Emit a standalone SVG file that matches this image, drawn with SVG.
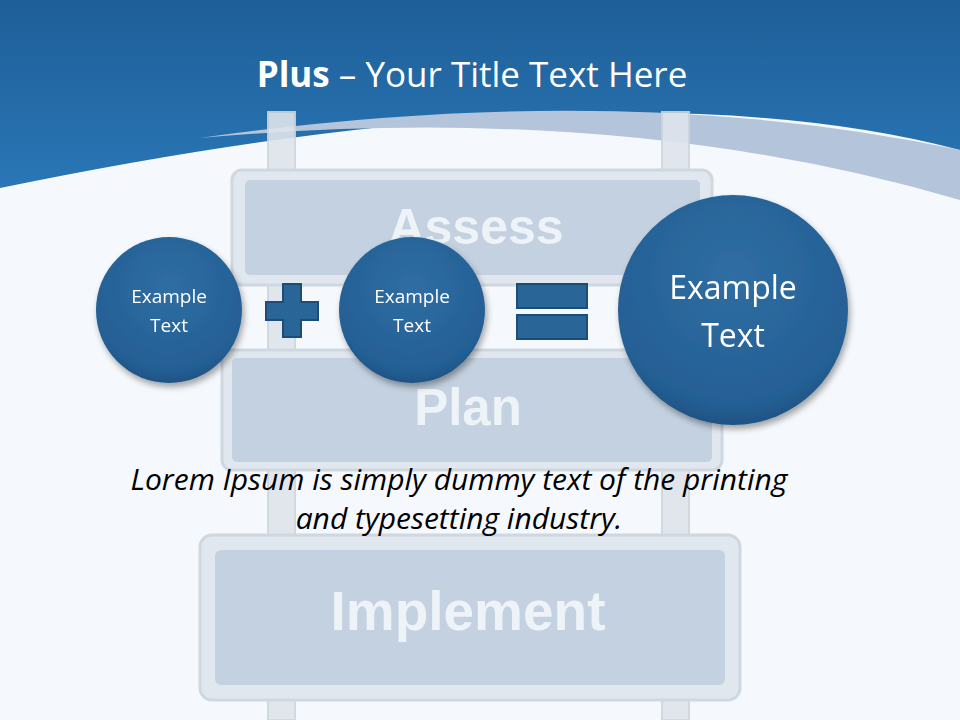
<svg xmlns="http://www.w3.org/2000/svg" width="960" height="720" viewBox="0 0 960 720">
<defs>
<linearGradient id="hdr" x1="0" y1="0" x2="0" y2="1"><stop offset="0" stop-color="#1e5f98"/><stop offset="1" stop-color="#2a76b6"/></linearGradient>
<radialGradient id="ball" cx="0.5" cy="0.35" r="0.7"><stop offset="0" stop-color="#2f6ea3"/><stop offset="0.8" stop-color="#245f94"/><stop offset="1" stop-color="#1b4d7c"/></radialGradient>
<filter id="sh" x="-20%" y="-20%" width="140%" height="140%"><feDropShadow dx="2" dy="4" stdDeviation="3" flood-color="#000" flood-opacity="0.35"/></filter>
</defs>
<style>
.ct{font-family:"Open Sans","Noto Sans",sans-serif;fill:#fff;text-anchor:middle}
.sg{font-family:"Liberation Sans",Arial,sans-serif;font-weight:bold;fill:#eef3f8;text-anchor:middle}
.frame{fill:#e1e7ee;stroke:#cfd7e0;stroke-width:3}
.panel{fill:#c3d1e0}
.op{fill:#2a6598;stroke:#1c4c78;stroke-width:2}
</style>
<rect width="960" height="720" fill="#f5f8fc"/>
<path d="M0 0H960V150Q620 60 0 188Z" fill="url(#hdr)"/>
<path d="M200 138Q620 78 960 150V200Q620 100 200 138Z" fill="#b4c4da"/>
<g id="ladder" fill="#dfe5ec" stroke="#cdd5de" stroke-width="2" opacity="0.9">
<rect x="268" y="112" width="27" height="608"/>
<rect x="662" y="112" width="27" height="608"/>
</g>
<g id="assess"><rect class="frame" x="232" y="170" width="480" height="115" rx="10"/><rect class="panel" x="245" y="180" width="455" height="95" rx="5"/><text class="sg" x="476" y="244" font-size="50">Assess</text></g>
<g id="plan"><rect class="frame" x="222" y="350" width="500" height="120" rx="10"/><rect class="panel" x="232" y="358" width="480" height="104" rx="5"/><text class="sg" x="468" y="425" font-size="51">Plan</text></g>
<g id="implement"><rect class="frame" x="200" y="535" width="540" height="165" rx="12"/><rect class="panel" x="215" y="550" width="510" height="135" rx="6"/><text class="sg" x="468" y="630" font-size="55">Implement</text></g>
<text x="472" y="87" font-family="Open Sans,Noto Sans,sans-serif" font-size="35" fill="#fff" text-anchor="middle"><tspan font-weight="bold">Plus</tspan> – Your Title Text Here</text>
<g id="c1" filter="url(#sh)"><ellipse cx="169" cy="310" rx="73" ry="73" fill="url(#ball)"/><text class="ct" font-size="19"><tspan x="169" y="303">Example</tspan><tspan x="169" y="332">Text</tspan></text></g>
<g id="plus"><path class="op" d="M283 284H301V302H318V320H301V337H283V320H266V302H283Z"/></g>
<g id="c2" filter="url(#sh)"><ellipse cx="412" cy="310" rx="73" ry="73" fill="url(#ball)"/><text class="ct" font-size="19"><tspan x="412" y="303">Example</tspan><tspan x="412" y="332">Text</tspan></text></g>
<g id="equals"><rect class="op" x="517" y="284" width="70" height="24"/><rect class="op" x="517" y="315" width="70" height="24"/></g>
<g id="c3" filter="url(#sh)"><ellipse cx="733" cy="310" rx="115" ry="115" fill="url(#ball)"/><text class="ct" font-size="32"><tspan x="733" y="299">Example</tspan><tspan x="733" y="347">Text</tspan></text></g>
<g id="connectors"/>
<text font-family="Open Sans,Noto Sans,sans-serif" font-style="italic" font-size="30" fill="#000" text-anchor="middle"><tspan x="459" y="490">Lorem Ipsum is simply dummy text of the printing</tspan><tspan x="459" y="529">and typesetting industry.</tspan></text>
</svg>
